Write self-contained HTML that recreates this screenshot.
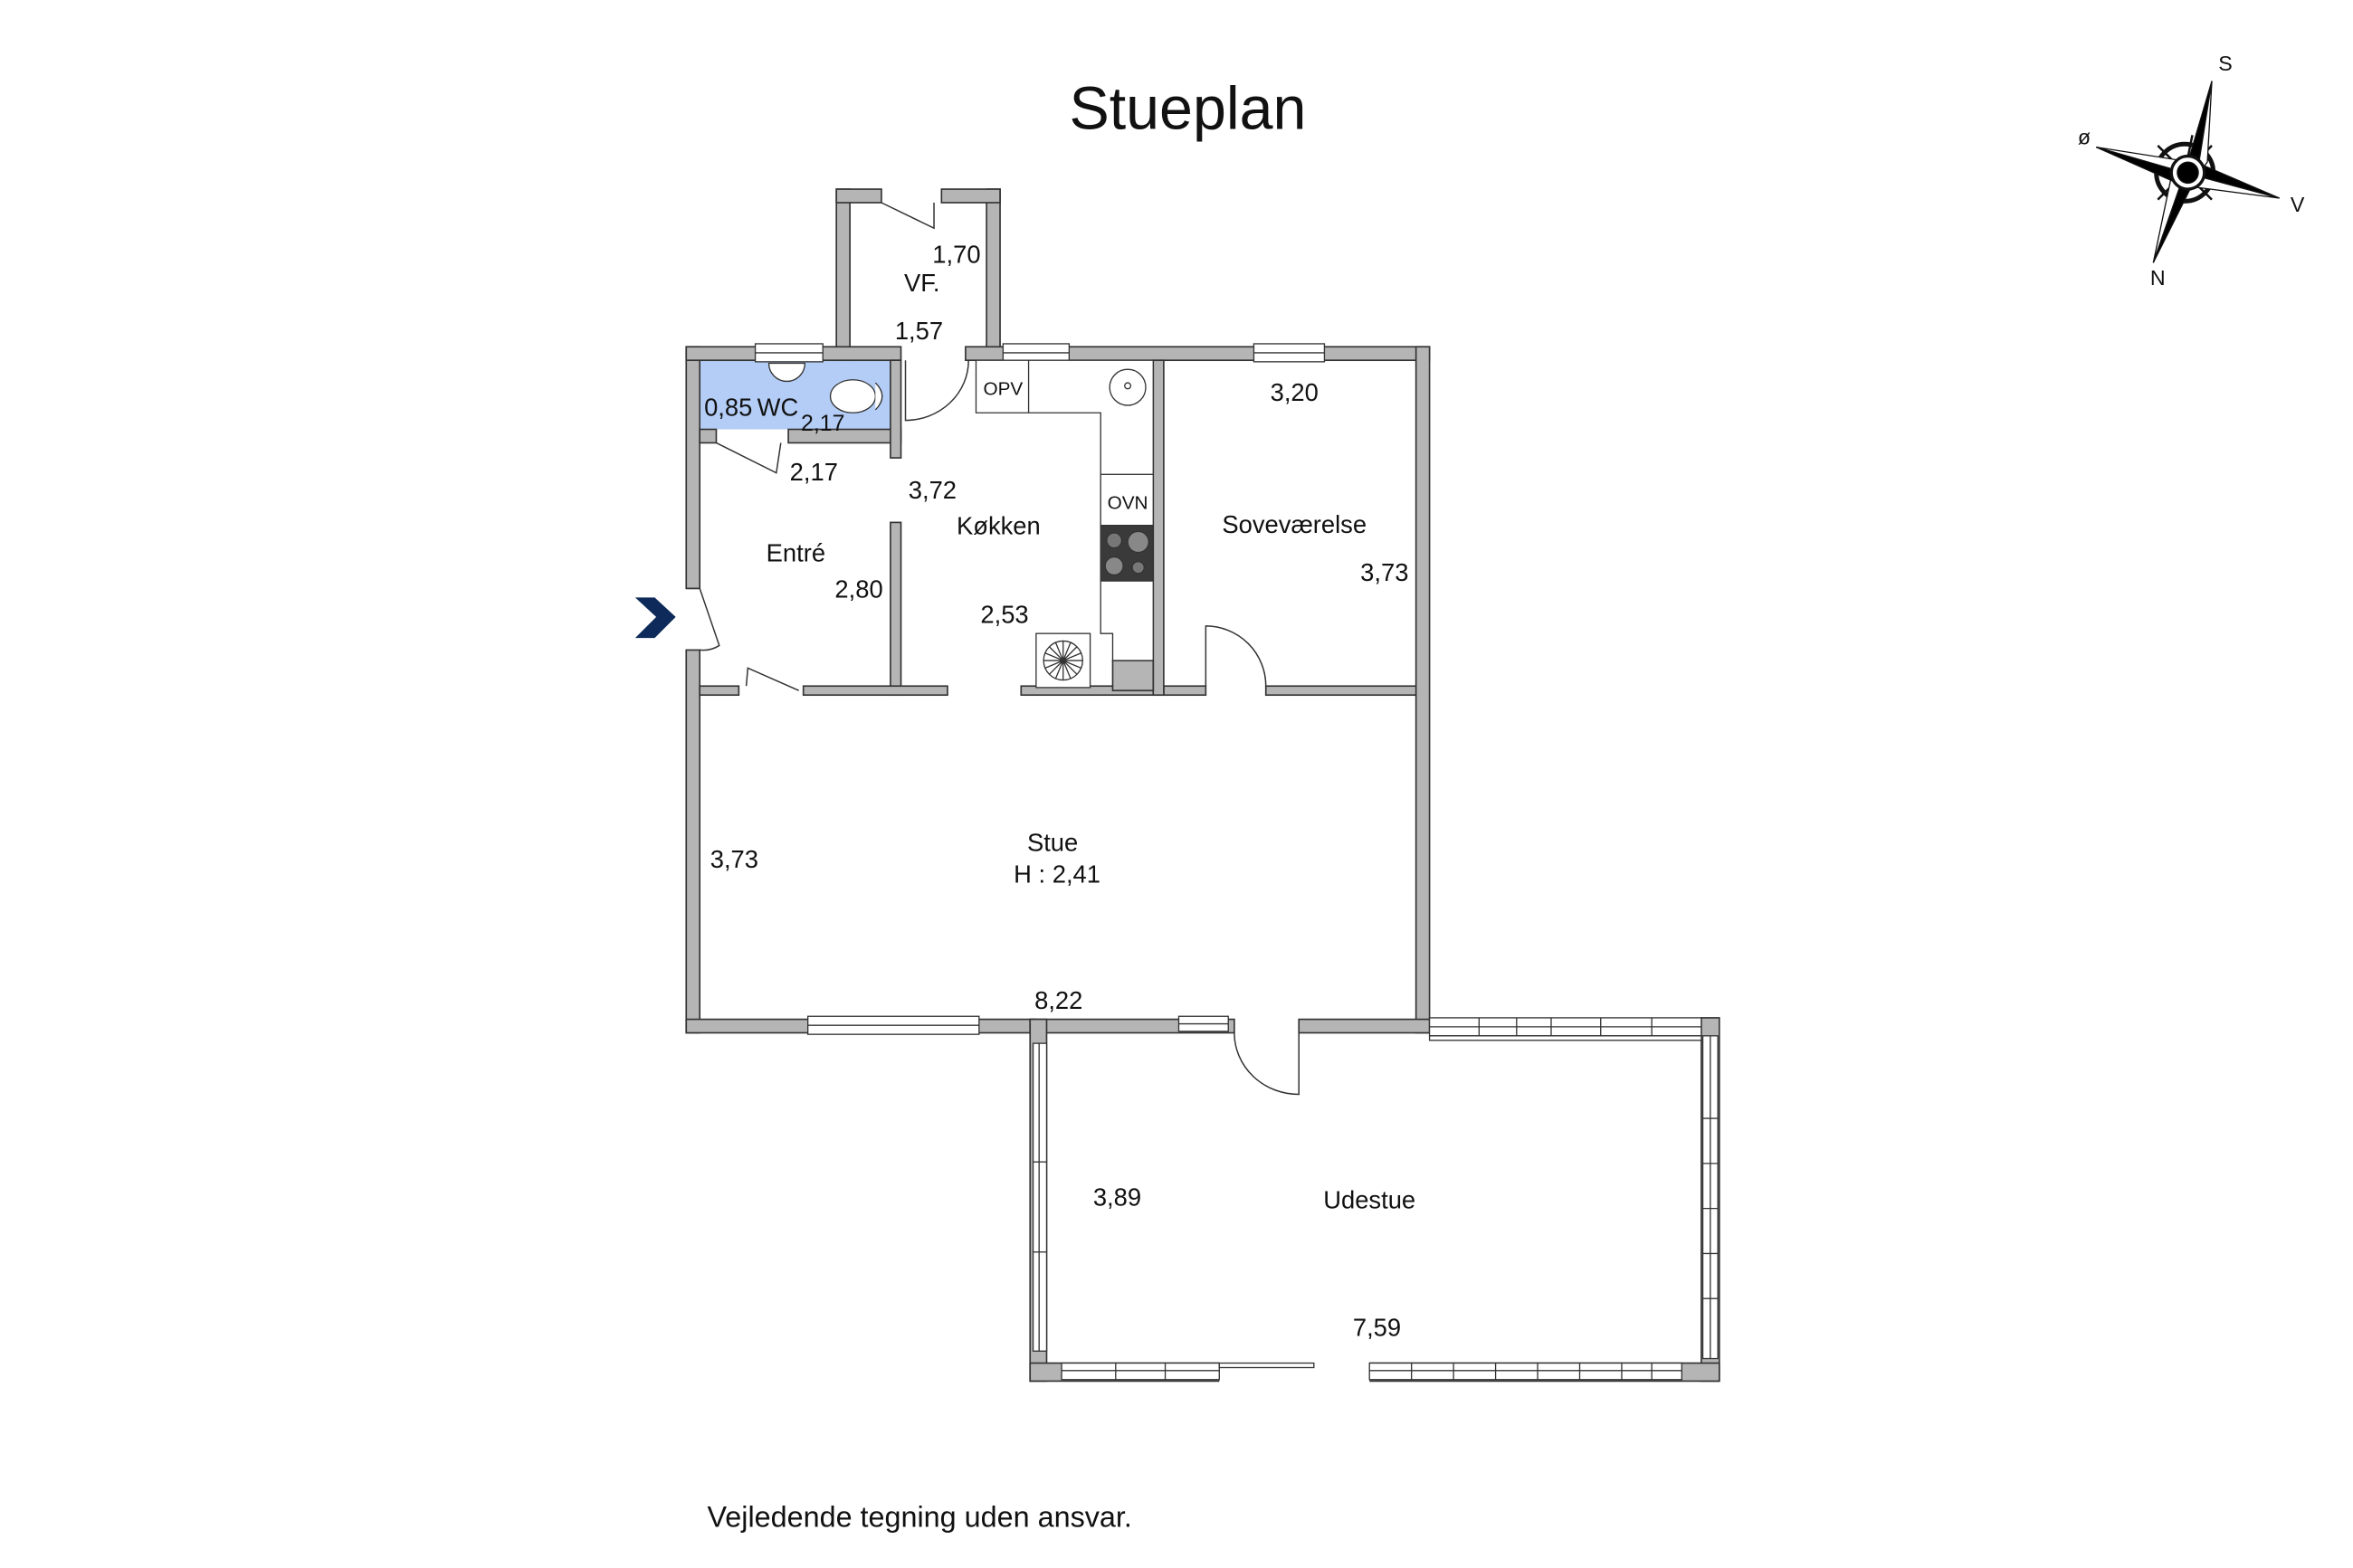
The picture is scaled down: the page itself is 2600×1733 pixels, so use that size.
<!DOCTYPE html>
<html><head><meta charset="utf-8"><style>
html,body{margin:0;padding:0;background:#fff;}
svg{display:block;}
text{font-family:"Liberation Sans",Arial,sans-serif;fill:#111;}
</style></head><body>
<svg width="2600" height="1733" viewBox="0 0 1567 1044.5" preserveAspectRatio="none" xmlns="http://www.w3.org/2000/svg">
<rect width="1567" height="1045" fill="#fff"/>
<text x="791" y="86" font-size="40" text-anchor="middle">Stueplan</text>

<rect x="466" y="240" width="127" height="46" fill="#b4cdf6"/>

<g fill="#b5b5b5" stroke="#333" stroke-width="1">
<rect x="457" y="231" width="9" height="161"/>
<rect x="457" y="433" width="9" height="255"/>
<rect x="557" y="126" width="9" height="114"/>
<rect x="657" y="126" width="9" height="114"/>
<rect x="557" y="126" width="30" height="9"/>
<rect x="627" y="126" width="39" height="9"/>
<rect x="457" y="231" width="143" height="9"/>
<rect x="643" y="231" width="309" height="9"/>
<rect x="943" y="231" width="9" height="457"/>
<rect x="466" y="286" width="11" height="9"/>
<rect x="525" y="286" width="75" height="9"/>
<rect x="593" y="240" width="7" height="65"/>
<rect x="593" y="348" width="7" height="115"/>
<rect x="466" y="457" width="26" height="6"/>
<rect x="535" y="457" width="96" height="6"/>
<rect x="680" y="457" width="95" height="6"/>
<rect x="775" y="457" width="28" height="6"/>
<rect x="843" y="457" width="100" height="6"/>
<rect x="768" y="240" width="7" height="223"/>
<rect x="741" y="440" width="27" height="20"/>
<rect x="457" y="679" width="233" height="9"/>
<rect x="686" y="679" width="136" height="9"/>
<rect x="865" y="679" width="87" height="9"/>
<rect x="686" y="679" width="11" height="241"/>
<rect x="1133" y="678" width="12" height="242"/>
<rect x="686" y="908" width="459" height="12"/>
</g>

<g fill="#fff">
<rect x="812" y="907" width="100" height="14"/>
</g>
<g fill="#fff" stroke="#333" stroke-width="0.8">
<rect x="503" y="229" width="45" height="12"/>
<line x1="503" y1="235" x2="548" y2="235"/>
<rect x="668" y="229" width="44" height="12"/>
<line x1="668" y1="235" x2="712" y2="235"/>
<rect x="835" y="229" width="47" height="12"/>
<line x1="835" y1="235" x2="882" y2="235"/>
<rect x="538" y="677" width="114" height="12"/>
<line x1="538" y1="683" x2="652" y2="683"/>
<rect x="785" y="677" width="33" height="10"/>
<line x1="785" y1="682" x2="818" y2="682"/>
<rect x="952" y="678" width="181" height="12"/>
<line x1="952" y1="684" x2="1133" y2="684"/>
<rect x="952" y="690" width="181" height="3"/>
<rect x="688" y="695" width="9" height="205"/>
<line x1="692" y1="695" x2="692" y2="900"/>
<rect x="1134" y="690" width="10" height="215"/>
<line x1="1139" y1="690" x2="1139" y2="905"/>
<rect x="707" y="908" width="105" height="11"/>
<line x1="707" y1="913" x2="812" y2="913"/>
<rect x="912" y="908" width="208" height="11"/>
<line x1="912" y1="913" x2="1120" y2="913"/>
<rect x="812" y="908" width="63" height="3"/>
</g>
<g stroke="#333" stroke-width="0.8">
<line x1="1010" y1="678" x2="1010" y2="690"/><line x1="1066" y1="678" x2="1066" y2="690"/><line x1="985" y1="678" x2="985" y2="690"/><line x1="1033" y1="678" x2="1033" y2="690"/><line x1="1100" y1="678" x2="1100" y2="690"/>
<line x1="743" y1="908" x2="743" y2="919"/><line x1="776" y1="908" x2="776" y2="919"/>
<line x1="940" y1="908" x2="940" y2="919"/><line x1="968" y1="908" x2="968" y2="919"/><line x1="996" y1="908" x2="996" y2="919"/><line x1="1024" y1="908" x2="1024" y2="919"/><line x1="1052" y1="908" x2="1052" y2="919"/><line x1="1080" y1="908" x2="1080" y2="919"/><line x1="1100" y1="908" x2="1100" y2="919"/>
<line x1="688" y1="774" x2="697" y2="774"/><line x1="688" y1="834" x2="697" y2="834"/>
<line x1="1134" y1="745" x2="1144" y2="745"/><line x1="1134" y1="775" x2="1144" y2="775"/><line x1="1134" y1="805" x2="1144" y2="805"/><line x1="1134" y1="835" x2="1144" y2="835"/><line x1="1134" y1="865" x2="1144" y2="865"/>
</g>

<g fill="none" stroke="#333" stroke-width="0.9">
<path d="M587 135 L622 152 L622 135"/>
<path d="M603 240 L603 280 A42 40 0 0 0 645 240"/>
<path d="M477 295 L517 315 L520 295"/>
<path d="M457 392 L466 392 L479 430 A20 20 0 0 1 466 433"/>
<path d="M497 457 L498 445 L532 460"/>
<path d="M803 457 L803 417 A40 40 0 0 1 843 457"/>
<path d="M865 688 L865 729 A43 41 0 0 1 822 688"/>
</g>

<g fill="#fff" stroke="#333" stroke-width="0.8">
<path d="M650 240 L768 240 L768 440 L741 440 L741 422 L733 422 L733 275 L650 275 Z"/>
<line x1="685" y1="240" x2="685" y2="275"/>
<rect x="733" y="316" width="35" height="34"/>
<rect x="733" y="350" width="35" height="37" fill="#3a3a3a"/>
<circle cx="742" cy="360" r="5" fill="#777"/><circle cx="758" cy="361" r="7" fill="#888"/>
<circle cx="742" cy="377" r="6" fill="#888"/><circle cx="758" cy="378" r="4" fill="#777"/>
<rect x="690" y="422" width="36" height="36"/>
<circle cx="708" cy="440" r="13"/>
<path d="M695 440 H721 M708 427 V453 M699 431 L717 449 M717 431 L699 449 M703 428 L713 452 M713 428 L703 452 M696 435 L720 445 M720 435 L696 445"/>
<circle cx="751" cy="258" r="12"/>
<circle cx="751" cy="257" r="2"/>
<path d="M512 242 A12 12 0 0 0 536 242 Z"/>
<ellipse cx="568" cy="264" rx="15" ry="11"/>
<path d="M583 255 Q592 264 583 273"/>
</g>
<path d="M423 398 L436 398 L450 411 L436 425 L423 425 L437 411 Z" fill="#0e2a5a"/>

<g font-size="16.5" text-anchor="middle">
<text x="637" y="175">1,70</text>
<text x="614" y="194">VF.</text>
<text x="612" y="226">1,57</text>
<text x="485" y="277">0,85</text>
<text x="518" y="277">WC</text>
<text x="548" y="287" font-size="15">2,17</text>
<text x="542" y="320">2,17</text>
<text x="621" y="332">3,72</text>
<text x="665" y="356">Køkken</text>
<text x="530" y="374">Entré</text>
<text x="572" y="398">2,80</text>
<text x="669" y="415">2,53</text>
<text x="668" y="263" font-size="12.5">OPV</text>
<text x="751" y="339" font-size="12.5">OVN</text>
<text x="862" y="267">3,20</text>
<text x="862" y="355">Soveværelse</text>
<text x="922" y="387">3,73</text>
<text x="701" y="567">Stue</text>
<text x="704" y="588">H : 2,41</text>
<text x="489" y="578">3,73</text>
<text x="705" y="672">8,22</text>
<text x="744" y="803">3,89</text>
<text x="912" y="805">Udestue</text>
<text x="917" y="890">7,59</text>
</g>
<text x="471" y="1017" font-size="19.5">Vejledende tegning uden ansvar.</text>

<g stroke="#111" stroke-width="0.8">
<circle cx="1455" cy="115" r="19" fill="none" stroke-width="3"/>
<path d="M1430 110 L1480 120 M1460 90 L1450 140 M1437 97 L1473 133 M1473 97 L1437 133" stroke-width="1.5"/>
<polygon points="1473,54 1455,115 1463,117" fill="#000"/>
<polygon points="1473,54 1463,117 1470,108" fill="#fff"/>
<polygon points="1434,175 1455,115 1447,113" fill="#fff"/>
<polygon points="1434,175 1455,115 1463,117" fill="#000"/>
<polygon points="1396,98 1455,115 1453,107" fill="#fff"/>
<polygon points="1396,98 1455,115 1450,122" fill="#000"/>
<polygon points="1518,132 1455,115 1460,107" fill="#000"/>
<polygon points="1518,132 1455,115 1457,124" fill="#fff"/>
<circle cx="1457" cy="115" r="11" fill="#fff" stroke-width="2"/>
<circle cx="1457" cy="115" r="7" fill="#000"/>
</g>
<g font-size="14" text-anchor="middle">
<text x="1482" y="47">S</text>
<text x="1437" y="190">N</text>
<text x="1388" y="96">ø</text>
<text x="1530" y="141">V</text>
</g>
</svg>
</body></html>
